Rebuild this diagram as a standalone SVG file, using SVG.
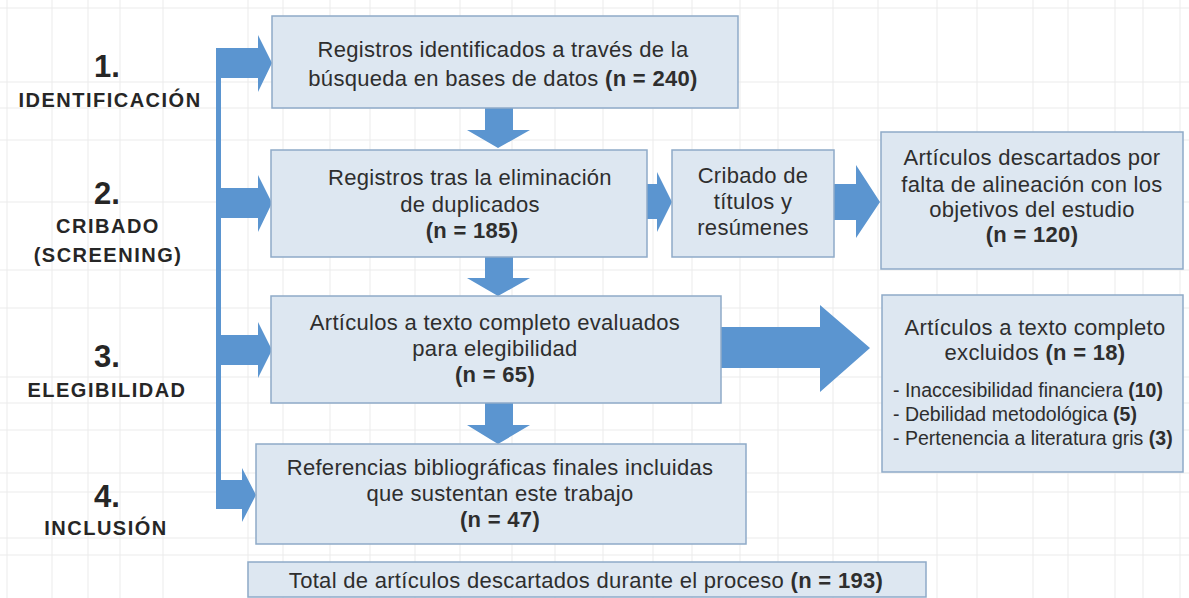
<svg xmlns="http://www.w3.org/2000/svg" width="1189" height="598" viewBox="0 0 1189 598">
  <style>
    .grid line { stroke: #ebebeb; stroke-width: 1; }
    .box { fill: #dde7f1; stroke: #8eaac8; stroke-width: 1.5; }
    .arr { fill: #5b95d0; }
    .t { font-family: "Liberation Sans", "Open Sans", sans-serif; font-size: 22px; letter-spacing: 0.3px; fill: #2e2e2e; text-anchor: middle; }
    .s { font-family: "Liberation Sans", "Open Sans", sans-serif; font-size: 19.5px; fill: #2e2e2e; }
    .b { font-weight: 700; }
    .num { font-family: "Liberation Sans", "Open Sans", sans-serif; font-size: 31px; font-weight: 700; fill: #262626; text-anchor: middle; }
    .lab { font-family: "Liberation Sans", "Open Sans", sans-serif; font-size: 20px; font-weight: 700; fill: #262626; text-anchor: middle; letter-spacing: 1.5px; }
  </style>
  <rect width="1189" height="598" fill="#ffffff"/>
  <g class="grid">
    <line x1="7" y1="0" x2="7" y2="598"/>
    <line x1="52" y1="0" x2="52" y2="598"/>
    <line x1="88" y1="0" x2="88" y2="598"/>
    <line x1="120" y1="0" x2="120" y2="598"/>
    <line x1="163" y1="0" x2="163" y2="598"/>
    <line x1="248" y1="0" x2="248" y2="598"/>
    <line x1="283" y1="0" x2="283" y2="598"/>
    <line x1="330" y1="0" x2="330" y2="598"/>
    <line x1="370" y1="0" x2="370" y2="598"/>
    <line x1="415" y1="0" x2="415" y2="598"/>
    <line x1="460" y1="0" x2="460" y2="598"/>
    <line x1="512" y1="0" x2="512" y2="598"/>
    <line x1="555" y1="0" x2="555" y2="598"/>
    <line x1="603" y1="0" x2="603" y2="598"/>
    <line x1="653" y1="0" x2="653" y2="598"/>
    <line x1="692" y1="0" x2="692" y2="598"/>
    <line x1="740" y1="0" x2="740" y2="598"/>
    <line x1="778" y1="0" x2="778" y2="598"/>
    <line x1="833" y1="0" x2="833" y2="598"/>
    <line x1="878" y1="0" x2="878" y2="598"/>
    <line x1="937" y1="0" x2="937" y2="598"/>
    <line x1="977" y1="0" x2="977" y2="598"/>
    <line x1="1033" y1="0" x2="1033" y2="598"/>
    <line x1="1068" y1="0" x2="1068" y2="598"/>
    <line x1="1115" y1="0" x2="1115" y2="598"/>
    <line x1="1143" y1="0" x2="1143" y2="598"/>
    <line x1="1180" y1="0" x2="1180" y2="598"/>
    <line x1="0" y1="8" x2="1189" y2="8"/>
    <line x1="0" y1="82" x2="1189" y2="82"/>
    <line x1="0" y1="108" x2="1189" y2="108"/>
    <line x1="0" y1="140" x2="1189" y2="140"/>
    <line x1="0" y1="202" x2="1189" y2="202"/>
    <line x1="0" y1="270" x2="1189" y2="270"/>
    <line x1="0" y1="308" x2="1189" y2="308"/>
    <line x1="0" y1="377" x2="1189" y2="377"/>
    <line x1="0" y1="403" x2="1189" y2="403"/>
    <line x1="0" y1="430" x2="1189" y2="430"/>
    <line x1="0" y1="473" x2="1189" y2="473"/>
    <line x1="0" y1="492" x2="1189" y2="492"/>
    <line x1="0" y1="538" x2="1189" y2="538"/>
    <line x1="0" y1="555" x2="1189" y2="555"/>
  </g>

  <g id="stage-labels">
    <text class="num" x="107" y="77">1.</text>
    <text class="lab" x="110" y="107">IDENTIFICACIÓN</text>
    <text class="num" x="107" y="204">2.</text>
    <text class="lab" x="108" y="233">CRIBADO</text>
    <text class="lab" x="108" y="262">(SCREENING)</text>
    <text class="num" x="107" y="367">3.</text>
    <text class="lab" x="107" y="397">ELEGIBILIDAD</text>
    <text class="num" x="107" y="507">4.</text>
    <text class="lab" x="106" y="535">INCLUSIÓN</text>
  </g>

  <g id="connectors">
    <rect class="arr" x="216" y="48" width="5" height="461"/>
    <polygon class="arr" points="218,48 258,48 258,35 272,63 258,92 258,78 218,78"/>
    <polygon class="arr" points="218,188 258,188 258,175 272,203 258,232 258,218 218,218"/>
    <polygon class="arr" points="218,335 258,335 258,322 272,350 258,378 258,365 218,365"/>
    <polygon class="arr" points="218,480 242,480 242,468 256,495 242,522 242,509 218,509"/>
    <polygon class="arr" points="485,108 513,108 513,130 530,130 498,148 467,130 485,130"/>
    <polygon class="arr" points="485,257 513,257 513,278 530,278 498,296 467,278 485,278"/>
    <polygon class="arr" points="485,403 513,403 513,425 530,425 498,444 467,425 485,425"/>
    <polygon class="arr" points="647,184 657,184 657,172 672,202 657,232 657,219 647,219"/>
    <polygon class="arr" points="834,184 856,184 856,165 880,202 856,238 856,220 834,220"/>
    <polygon class="arr" points="721,327 820,327 820,305 870,348 820,392 820,368 721,368"/>
  </g>

  <g id="node-identificados">
    <rect class="box" x="272" y="16" width="466" height="92"/>
    <text class="t" x="503" y="57">Registros identificados a través de la</text>
    <text class="t" x="503" y="86">búsqueda en bases de datos <tspan class="b">(n = 240)</tspan></text>
  </g>

  <g id="node-duplicados">
    <rect class="box" x="271" y="150" width="376" height="107"/>
    <text class="t" x="470" y="185">Registros tras la eliminación</text>
    <text class="t" x="470" y="212">de duplicados</text>
    <text class="t b" x="472" y="238">(n = 185)</text>
  </g>

  <g id="node-cribado">
    <rect class="box" x="672" y="150" width="162" height="107"/>
    <text class="t" x="753" y="183">Cribado de</text>
    <text class="t" x="753" y="209">títulos y</text>
    <text class="t" x="753" y="235">resúmenes</text>
  </g>

  <g id="node-descartados">
    <rect class="box" x="881" y="132" width="302" height="137"/>
    <text class="t" x="1032" y="165">Artículos descartados por</text>
    <text class="t" x="1032" y="192">falta de alineación con los</text>
    <text class="t" x="1032" y="217">objetivos del estudio</text>
    <text class="t b" x="1032" y="242">(n = 120)</text>
  </g>

  <g id="node-elegibilidad">
    <rect class="box" x="271" y="296" width="450" height="107"/>
    <text class="t" x="495" y="330">Artículos a texto completo evaluados</text>
    <text class="t" x="495" y="356">para elegibilidad</text>
    <text class="t b" x="495" y="382">(n = 65)</text>
  </g>

  <g id="node-excluidos">
    <rect class="box" x="882" y="295" width="301" height="177"/>
    <text class="t" x="1035" y="335">Artículos a texto completo</text>
    <text class="t" x="1035" y="360">excluidos <tspan class="b">(n = 18)</tspan></text>
    <text class="s" x="893" y="397">- Inaccesibilidad financiera <tspan class="b">(10)</tspan></text>
    <text class="s" x="893" y="421">- Debilidad metodológica <tspan class="b">(5)</tspan></text>
    <text class="s" x="893" y="445">- Pertenencia a literatura gris <tspan class="b">(3)</tspan></text>
  </g>

  <g id="node-incluidas">
    <rect class="box" x="256" y="444" width="490" height="100"/>
    <text class="t" x="500" y="475">Referencias bibliográficas finales incluidas</text>
    <text class="t" x="500" y="501">que sustentan este trabajo</text>
    <text class="t b" x="500" y="527">(n = 47)</text>
  </g>

  <g id="node-total">
    <rect class="box" x="248" y="562" width="678" height="35"/>
    <text class="t" x="586" y="588">Total de artículos descartados durante el proceso <tspan class="b">(n = 193)</tspan></text>
  </g>
</svg>
